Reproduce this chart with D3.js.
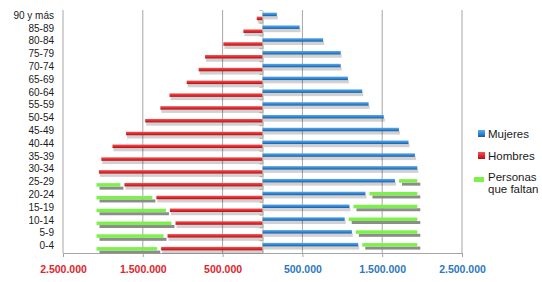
<!DOCTYPE html>
<meta charset="utf-8">
<script src="https://d3js.org/d3.v7.min.js"></script>
<style>
  body { margin: 0; background: #fff; }
  svg { display: block; font-family: "Liberation Sans", Arial, sans-serif; }
</style>
<svg></svg>
<script>

    var width = 542;
    var height = 282;
    var margin = ({top: 10, right: 80, bottom: 29, left: 63});

    // grupos de edad, de abajo arriba
    var ages = ["0-4", "5-9", "10-14", "15-19", "20-24", "25-29", "30-34", "35-39", "40-44",
                "45-49", "50-54", "55-59", "60-64", "65-69", "70-74", "75-79", "80-84", "85-89", "90 y más"];
    var mujeres = [1200000, 1120000, 1030000, 1090000, 1290000, 1660000, 1940000, 1910000, 1830000,
                   1710000, 1520000, 1330000, 1250000, 1070000, 980000, 980000, 760000, 465000, 180000];
    var hombres = [1270000, 1190000, 1090000, 1160000, 1330000, 1730000, 2050000, 2020000, 1880000,
                   1710000, 1470000, 1280000, 1165000, 950000, 800000, 720000, 490000, 240000, 72000];
    // personas que faltan (mujeres / hombres), solo en los grupos jóvenes
    var faltanMujeres = [740000, 820000, 910000, 850000, 650000, 280000, 0, 0, 0, 0, 0, 0, 0, 0, 0, 0, 0, 0, 0];
    var faltanHombres = [810000, 890000, 990000, 920000, 750000, 350000, 0, 0, 0, 0, 0, 0, 0, 0, 0, 0, 0, 0, 0];
    var xTicks = [-2500000, -1500000, -500000, 500000, 1500000, 2500000];

    var data = ages.map((a, i) => ({
        age: a, m: mujeres[i], h: hombres[i], fm: faltanMujeres[i], fh: faltanHombres[i]
    }));

    var locale = d3.formatLocale({decimal: ",", thousands: ".", grouping: [3], currency: ["", "€"]});
    var fmt = locale.format(",");

    var x = d3.scaleLinear()
        .domain([-2500000, 2500000])
        .range([margin.left, width - margin.right]);

    var y = d3.scaleBand()
        .domain(ages.slice().reverse())
        .range([margin.top, height - margin.bottom])
        .padding(0);

    var svg = d3.select("svg")
        .attr("width", width)
        .attr("height", height)
        .attr("viewBox", [0, 0, width, height]);

    var defs = svg.append("defs");
    function grad(id, top, mid, bot) {
        var g = defs.append("linearGradient").attr("id", id)
            .attr("x1", 0).attr("y1", 0).attr("x2", 0).attr("y2", 1);
        g.append("stop").attr("offset", "0%").attr("stop-color", top);
        g.append("stop").attr("offset", "55%").attr("stop-color", mid);
        g.append("stop").attr("offset", "100%").attr("stop-color", bot);
    }
    grad("gBlue", "#5aa9ea", "#2f86d6", "#1d5a9c");
    grad("gRed", "#f05555", "#e2272b", "#a8141a");

    // rejilla vertical
    svg.append("g")
        .selectAll("line")
        .data(xTicks)
        .join("line")
        .attr("x1", d => x(d)).attr("x2", d => x(d))
        .attr("y1", margin.top).attr("y2", height - margin.bottom)
        .attr("stroke", "#a6a6a6")
        .attr("stroke-width", 1);

    // eje inferior
    var xAxis = svg.append("g")
        .attr("transform", `translate(0,${height - margin.bottom})`)
        .call(d3.axisBottom(x).tickValues(xTicks).tickSize(4).tickFormat(d => fmt(Math.abs(d))));
    xAxis.select(".domain").attr("stroke", "#a6a6a6");
    xAxis.selectAll(".tick line").attr("stroke", "#a6a6a6");
    xAxis.selectAll(".tick text")
        .attr("y", 13)
        .attr("font-size", 10.5)
        .attr("font-weight", "bold")
        .attr("font-family", "Liberation Sans, Arial, sans-serif")
        .attr("fill", d => d < 0 ? "#e2252b" : "#2e78c0");

    // eje central con marcas
    var yAxis = svg.append("g")
        .attr("transform", `translate(${x(0)},0)`)
        .call(d3.axisLeft(y).tickSize(0).tickFormat(""));
    yAxis.select(".domain").attr("stroke", "#bdbdbd");
    svg.append("g")
        .selectAll("line")
        .data(ages)
        .join("line")
        .attr("x1", x(0) - 3).attr("x2", x(0))
        .attr("y1", d => y(d) + 0.5).attr("y2", d => y(d) + 0.5)
        .attr("stroke", "#bdbdbd");

    // etiquetas de edad
    svg.append("g")
        .selectAll("text")
        .data(ages)
        .join("text")
        .attr("x", 54)
        .attr("y", d => y(d) + y.bandwidth() / 2 - 1)
        .attr("dy", "0.35em")
        .attr("text-anchor", "end")
        .attr("font-size", 10)
        .attr("fill", "#1a1a1a")
        .text(d => d);

    var barH = 3.5;
    var bh = y.bandwidth() / 2;

    // personas que faltan: sombra y barra verde
    var gap = 4;
    var green = svg.append("g");
    var faltan = data.filter(d => d.fm > 0);
    green.selectAll("rect.sh-h")
        .data(faltan)
        .join("rect")
        .attr("class", "sh-h")
        .attr("x", d => x(-(d.h + d.fh)) + 3)
        .attr("y", d => y(d.age) + bh + 1 + 3)
        .attr("width", d => x(-d.h) - x(-(d.h + d.fh)) - gap)
        .attr("height", 3)
        .attr("fill", "#8c8c8c");
    green.selectAll("rect.gr-h")
        .data(faltan)
        .join("rect")
        .attr("class", "gr-h")
        .attr("x", d => x(-(d.h + d.fh)))
        .attr("y", d => y(d.age) + bh + 0.5)
        .attr("width", d => x(-d.h) - x(-(d.h + d.fh)) - gap)
        .attr("height", barH)
        .attr("fill", "#7df04b");
    green.selectAll("rect.sh-m")
        .data(faltan)
        .join("rect")
        .attr("class", "sh-m")
        .attr("x", d => x(d.m) + gap + 3)
        .attr("y", d => y(d.age) + bh - 3 + 3)
        .attr("width", d => x(d.m + d.fm) - x(d.m) - gap)
        .attr("height", 3)
        .attr("fill", "#8c8c8c");
    green.selectAll("rect.gr-m")
        .data(faltan)
        .join("rect")
        .attr("class", "gr-m")
        .attr("x", d => x(d.m) + gap)
        .attr("y", d => y(d.age) + bh - 3.5)
        .attr("width", d => x(d.m + d.fm) - x(d.m) - gap)
        .attr("height", barH)
        .attr("fill", "#7df04b");

    // hombres (izquierda) y mujeres (derecha)
    function bars(cls, x0, x1, yOff, fill) {
        var g = svg.append("g");
        g.selectAll("rect.s")
            .data(data)
            .join("rect")
            .attr("class", "s")
            .attr("x", d => x0(d) + 1)
            .attr("y", d => y(d.age) + bh + yOff + 1.5)
            .attr("width", d => Math.max(0, x1(d) - x0(d)))
            .attr("height", barH)
            .attr("fill", "#000")
            .attr("opacity", 0.18);
        g.selectAll("rect.b")
            .data(data)
            .join("rect")
            .attr("class", "b")
            .attr("x", d => x0(d))
            .attr("y", d => y(d.age) + bh + yOff - barH / 2)
            .attr("width", d => Math.max(0, x1(d) - x0(d)))
            .attr("height", barH)
            .attr("fill", fill);
    }
    bars("h", d => x(-d.h), d => x(0), 2, "url(#gRed)");
    bars("m", d => x(0), d => x(d.m), -2, "url(#gBlue)");

    // leyenda
    var legend = svg.append("g").attr("font-size", 11.5).attr("fill", "#1a1a1a");
    legend.append("rect").attr("x", 478).attr("y", 130).attr("width", 7).attr("height", 7).attr("fill", "url(#gBlue)");
    legend.append("text").attr("x", 488).attr("y", 137.5).text("Mujeres");
    legend.append("rect").attr("x", 478).attr("y", 152).attr("width", 7).attr("height", 7).attr("fill", "url(#gRed)");
    legend.append("text").attr("x", 488).attr("y", 159.5).text("Hombres");
    legend.append("rect").attr("x", 474).attr("y", 177).attr("width", 10).attr("height", 5).attr("fill", "#7df04b");
    legend.append("text").attr("x", 488).attr("y", 180.5).text("Personas");
    legend.append("text").attr("x", 488).attr("y", 193).text("que faltan");

</script>
